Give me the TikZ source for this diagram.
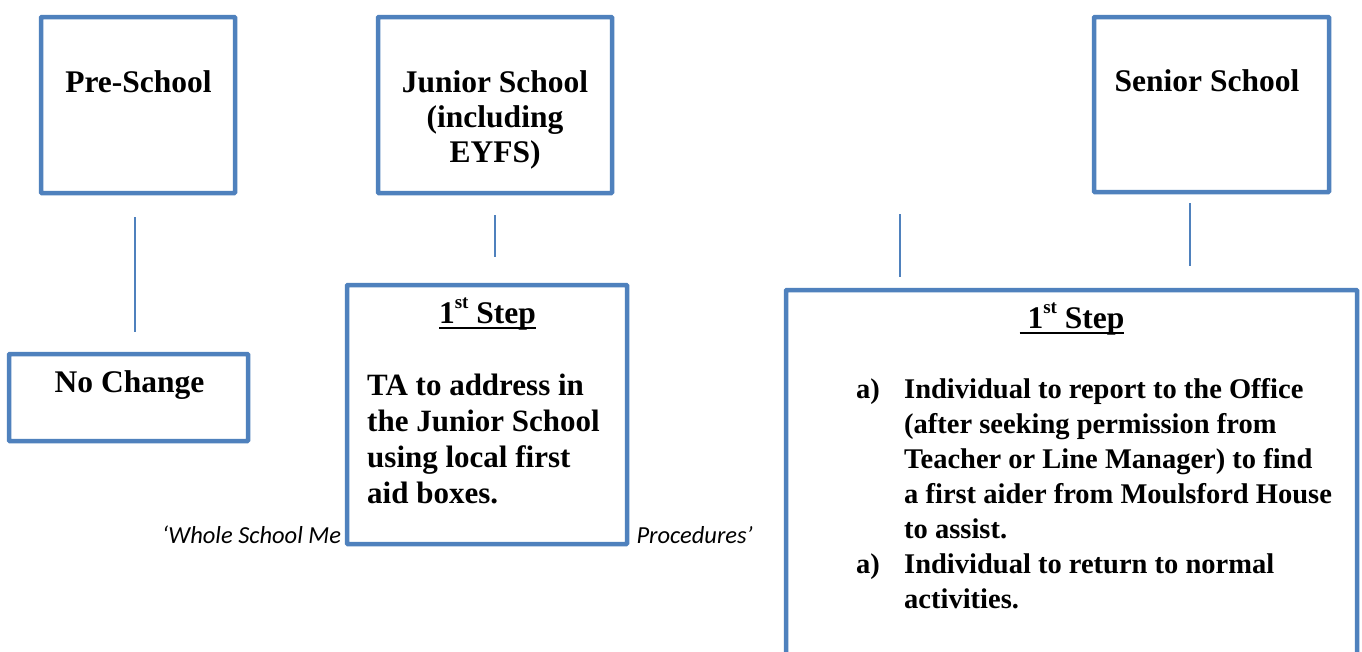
\documentclass[tikz,border=0pt]{standalone}
\usepackage{fontspec}
\setmainfont{Liberation Serif}
\newfontfamily\gillfont{Carlito}
\definecolor{obl}{HTML}{4F81BD}
\newcommand{\wul}[1]{\setbox0=\hbox{#1}\leavevmode\rlap{\rule[-5.5pt]{\wd0}{2pt}}\box0}
\newcommand{\stsup}{\raisebox{0.45em}{\fontsize{19}{19}\selectfont st}}
\begin{document}
\begin{tikzpicture}[x=1pt,y=-1pt,
  box/.style={draw=obl,line width=4.5pt,fill=white,inner sep=0pt,rectangle,rounded corners=0.8pt},
  conn/.style={draw=obl,line width=1.6pt},
  head/.style={font=\fontsize{31.5}{35}\selectfont\bfseries,inner sep=0pt,anchor=base},
  jbody/.style={font=\fontsize{31}{36}\selectfont\bfseries,inner sep=0pt,align=left,anchor=base west},
  sbody/.style={font=\fontsize{28.5}{35}\selectfont\bfseries,inner sep=0pt,align=left,anchor=base west},
  ital/.style={font=\gillfont\itshape\fontsize{24.5}{28}\selectfont,inner sep=0pt}]
\useasboundingbox (0,0) rectangle (1362,651);
\clip (0,0) rectangle (1362,651);
\fill[white] (0,0) rectangle (1362,651);

% caption text behind the boxes
\node[ital,anchor=base west] (it1) at (162,543) {‘Whole School Me};
\node[ital,anchor=base east] (it2) at (753,543) {Procedures’};

% boxes
\node[box,minimum width=194pt,minimum height=176pt] (pre) at (138,105) {};
\node[box,minimum width=234pt,minimum height=176pt] (jun) at (495,105) {};
\node[box,minimum width=235pt,minimum height=175pt] (sen) at (1211.5,104.5) {};
\node[box,minimum width=239pt,minimum height=87pt] (noc) at (128.5,397.5) {};
\node[box,minimum width=280pt,minimum height=259pt] (jstep) at (487,414.5) {};
\node[box,minimum width=571pt,minimum height=420pt] (sstep) at (1071.5,500) {};

% connectors
\coordinate (c1a) at (135,217); \coordinate (c1b) at (135,332);
\coordinate (c2a) at (495,215); \coordinate (c2b) at (495,257);
\coordinate (c3a) at (900,214); \coordinate (c3b) at (900,277);
\coordinate (c4a) at (1190,203); \coordinate (c4b) at (1190,266);
\draw[conn] (c1a) -- (c1b);
\draw[conn] (c2a) -- (c2b);
\draw[conn] (c3a) -- (c3b);
\draw[conn] (c4a) -- (c4b);

% texts (multi-line nodes: base anchor = last line)
\node[head] (tpre) at (138.5,92) {Pre-School};
\node[head,align=center] (tjun) at (495,162) {Junior School\\(including\\EYFS)};
\node[head] (tsen) at (1207,91) {Senior School};
\node[head] (tnoc) at (129.5,392) {No Change};
\node[head] (tjs) at (487.5,323) {\wul{1\stsup\ Step}};
\node[jbody] (tjb) at (367,503) {TA to address in\\the Junior School\\using local first\\aid boxes.};
\node[head] (tss) at (1072,328) {\wul{\ 1\stsup\ Step}};
\node[sbody] (la1) at (856,398) {a)};
\node[sbody] (lt1) at (904,538) {Individual to report to the Office\\(after seeking permission from\\Teacher or Line Manager) to find\\a first aider from Moulsford House\\to assist.};
\node[sbody] (la2) at (856,573) {a)};
\node[sbody] (lt2) at (904,608) {Individual to return to normal\\activities.};
\end{tikzpicture}
\end{document}
